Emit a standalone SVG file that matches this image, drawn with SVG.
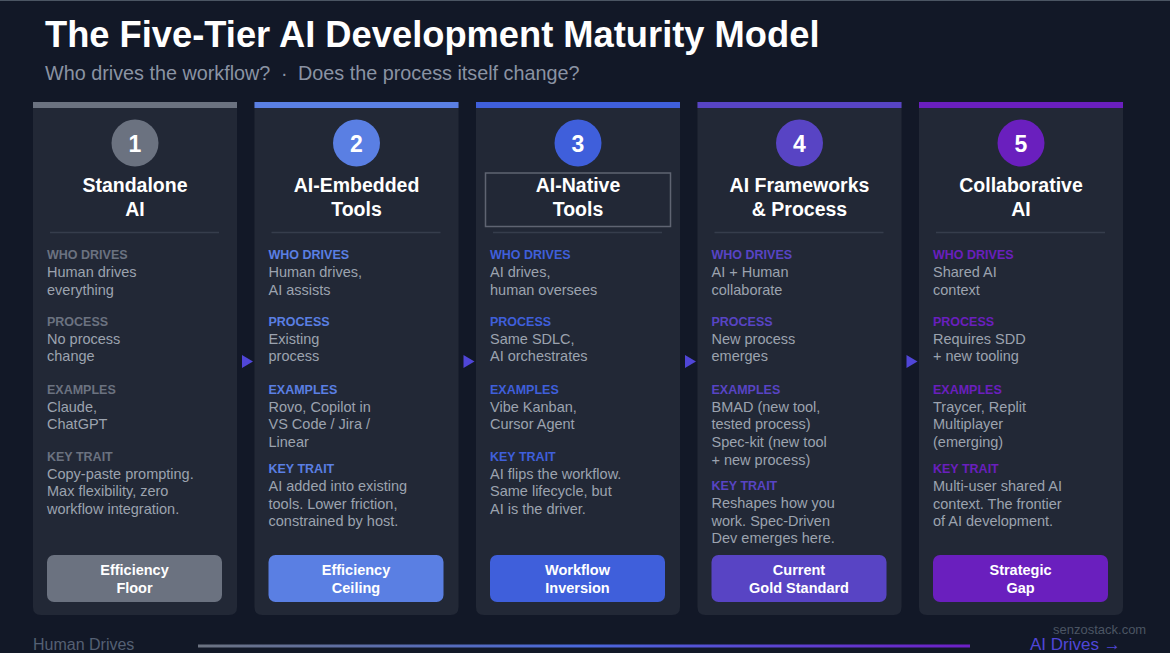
<svg xmlns="http://www.w3.org/2000/svg" width="1170" height="653" viewBox="0 0 1170 653">
<defs>
<style>
.bg{fill:#121827}
.card{fill:#222836}
.ttl{font-family:"Liberation Sans",Arial,sans-serif;font-weight:bold;fill:#ffffff}
.sub{font-family:"Liberation Sans",Arial,sans-serif;font-size:19.8px;fill:#8a93a3}
.ct{font-family:"Liberation Sans",Arial,sans-serif;font-weight:bold;font-size:19.5px;fill:#ffffff;text-anchor:middle}
.num{font-family:"Liberation Sans",Arial,sans-serif;font-weight:bold;font-size:23px;fill:#ffffff;text-anchor:middle}
.lbl{font-family:"Liberation Sans",Arial,sans-serif;font-weight:bold;font-size:12.5px}
.bd{font-family:"Liberation Sans",Arial,sans-serif;font-size:14.5px;fill:#9ca3af}
.bt{font-family:"Liberation Sans",Arial,sans-serif;font-weight:bold;font-size:14.5px;fill:#ffffff;text-anchor:middle}
.div{stroke:#363d4c;stroke-width:1.5}
.c1{fill:#6b7280}.c2{fill:#5a7fe3}.c3{fill:#3f5fdb}.c4{fill:#5844c4}.c5{fill:#6a1fbe}
.arr{fill:#5046d8}
</style>
<linearGradient id="prog" x1="0" y1="0" x2="1" y2="0">
<stop offset="0" stop-color="#6b7280"/>
<stop offset="0.5" stop-color="#4a68dc"/>
<stop offset="1" stop-color="#6d1fc6"/>
</linearGradient>
</defs>
<rect class="bg" x="0" y="0" width="1170" height="653"/>
<rect x="0" y="0" width="1170" height="1" fill="#4b5563"/>
<text class="ttl" x="45" y="47" font-size="36.3">The Five-Tier AI Development Maturity Model</text>
<text class="sub" x="45" y="80">Who drives the workflow?</text>
<text class="sub" x="281" y="80">·</text>
<text class="sub" x="298" y="80">Does the process itself change?</text>

<g id="connectors">
<polygon class="arr" points="242,355 253,361.5 242,368"/>
<polygon class="arr" points="463.5,355 474.5,361.5 463.5,368"/>
<polygon class="arr" points="685,355 696,361.5 685,368"/>
<polygon class="arr" points="906.5,355 917.5,361.5 906.5,368"/>
</g>

<g id="tier1">
<path class="card" d="M33,102 h204 v505 q0,8 -8,8 h-188 q-8,0 -8,-8 z"/>
<rect class="c1" x="33" y="102" width="204" height="6"/>
<circle class="c1" cx="135" cy="143" r="23.5"/>
<text class="num" x="135" y="151.5">1</text>
<text class="ct" x="135" y="191.5">Standalone</text>
<text class="ct" x="135" y="215.5">AI</text>
<line class="div" x1="50" y1="232.5" x2="219" y2="232.5"/>
<text class="lbl c1" x="47" y="259">WHO DRIVES</text>
<text class="bd" x="47" y="277">Human drives</text>
<text class="bd" x="47" y="295">everything</text>
<text class="lbl c1" x="47" y="326">PROCESS</text>
<text class="bd" x="47" y="343.5">No process</text>
<text class="bd" x="47" y="361">change</text>
<text class="lbl c1" x="47" y="393.5">EXAMPLES</text>
<text class="bd" x="47" y="411.5">Claude,</text>
<text class="bd" x="47" y="429">ChatGPT</text>
<text class="lbl c1" x="47" y="461">KEY TRAIT</text>
<text class="bd" x="47" y="478.5">Copy-paste prompting.</text>
<text class="bd" x="47" y="496">Max flexibility, zero</text>
<text class="bd" x="47" y="514">workflow integration.</text>
<rect class="c1" x="47" y="555" width="175" height="47" rx="7"/>
<text class="bt" x="134.5" y="575">Efficiency</text>
<text class="bt" x="134.5" y="593">Floor</text>
</g>

<g id="tier2">
<path class="card" d="M254.5,102 h204 v505 q0,8 -8,8 h-188 q-8,0 -8,-8 z"/>
<rect class="c2" x="254.5" y="102" width="204" height="6"/>
<circle class="c2" cx="356.5" cy="143" r="23.5"/>
<text class="num" x="356.5" y="151.5">2</text>
<text class="ct" x="356.5" y="191.5">AI-Embedded</text>
<text class="ct" x="356.5" y="215.5">Tools</text>
<line class="div" x1="271.5" y1="232.5" x2="440.5" y2="232.5"/>
<text class="lbl c2" x="268.5" y="259">WHO DRIVES</text>
<text class="bd" x="268.5" y="277">Human drives,</text>
<text class="bd" x="268.5" y="295">AI assists</text>
<text class="lbl c2" x="268.5" y="326">PROCESS</text>
<text class="bd" x="268.5" y="343.5">Existing</text>
<text class="bd" x="268.5" y="361">process</text>
<text class="lbl c2" x="268.5" y="393.5">EXAMPLES</text>
<text class="bd" x="268.5" y="411.5">Rovo, Copilot in</text>
<text class="bd" x="268.5" y="429">VS Code / Jira /</text>
<text class="bd" x="268.5" y="447">Linear</text>
<text class="lbl c2" x="268.5" y="473">KEY TRAIT</text>
<text class="bd" x="268.5" y="491">AI added into existing</text>
<text class="bd" x="268.5" y="509">tools. Lower friction,</text>
<text class="bd" x="268.5" y="526">constrained by host.</text>
<rect class="c2" x="268.5" y="555" width="175" height="47" rx="7"/>
<text class="bt" x="356" y="575">Efficiency</text>
<text class="bt" x="356" y="593">Ceiling</text>
</g>

<g id="tier3">
<path class="card" d="M476,102 h204 v505 q0,8 -8,8 h-188 q-8,0 -8,-8 z"/>
<rect class="c3" x="476" y="102" width="204" height="6"/>
<circle class="c3" cx="578" cy="143" r="23.5"/>
<text class="num" x="578" y="151.5">3</text>
<rect x="485.5" y="173" width="185" height="53.5" fill="none" stroke="#5f6472" stroke-width="1.5"/>
<text class="ct" x="578" y="191.5">AI-Native</text>
<text class="ct" x="578" y="215.5">Tools</text>
<line class="div" x1="493" y1="232.5" x2="662" y2="232.5"/>
<text class="lbl c3" x="490" y="259">WHO DRIVES</text>
<text class="bd" x="490" y="277">AI drives,</text>
<text class="bd" x="490" y="295">human oversees</text>
<text class="lbl c3" x="490" y="326">PROCESS</text>
<text class="bd" x="490" y="343.5">Same SDLC,</text>
<text class="bd" x="490" y="361">AI orchestrates</text>
<text class="lbl c3" x="490" y="393.5">EXAMPLES</text>
<text class="bd" x="490" y="411.5">Vibe Kanban,</text>
<text class="bd" x="490" y="429">Cursor Agent</text>
<text class="lbl c3" x="490" y="461">KEY TRAIT</text>
<text class="bd" x="490" y="478.5">AI flips the workflow.</text>
<text class="bd" x="490" y="496">Same lifecycle, but</text>
<text class="bd" x="490" y="514">AI is the driver.</text>
<rect class="c3" x="490" y="555" width="175" height="47" rx="7"/>
<text class="bt" x="577.5" y="575">Workflow</text>
<text class="bt" x="577.5" y="593">Inversion</text>
</g>

<g id="tier4">
<path class="card" d="M697.5,102 h204 v505 q0,8 -8,8 h-188 q-8,0 -8,-8 z"/>
<rect class="c4" x="697.5" y="102" width="204" height="6"/>
<circle class="c4" cx="799.5" cy="143" r="23.5"/>
<text class="num" x="799.5" y="151.5">4</text>
<text class="ct" x="799.5" y="191.5">AI Frameworks</text>
<text class="ct" x="799.5" y="215.5">&amp; Process</text>
<line class="div" x1="714.5" y1="232.5" x2="883.5" y2="232.5"/>
<text class="lbl c4" x="711.5" y="259">WHO DRIVES</text>
<text class="bd" x="711.5" y="277">AI + Human</text>
<text class="bd" x="711.5" y="295">collaborate</text>
<text class="lbl c4" x="711.5" y="326">PROCESS</text>
<text class="bd" x="711.5" y="343.5">New process</text>
<text class="bd" x="711.5" y="361">emerges</text>
<text class="lbl c4" x="711.5" y="393.5">EXAMPLES</text>
<text class="bd" x="711.5" y="411.5">BMAD (new tool,</text>
<text class="bd" x="711.5" y="429">tested process)</text>
<text class="bd" x="711.5" y="447">Spec-kit (new tool</text>
<text class="bd" x="711.5" y="464.5">+ new process)</text>
<text class="lbl c4" x="711.5" y="490">KEY TRAIT</text>
<text class="bd" x="711.5" y="508">Reshapes how you</text>
<text class="bd" x="711.5" y="526">work. Spec-Driven</text>
<text class="bd" x="711.5" y="543">Dev emerges here.</text>
<rect class="c4" x="711.5" y="555" width="175" height="47" rx="7"/>
<text class="bt" x="799" y="575">Current</text>
<text class="bt" x="799" y="593">Gold Standard</text>
</g>

<g id="tier5">
<path class="card" d="M919,102 h204 v505 q0,8 -8,8 h-188 q-8,0 -8,-8 z"/>
<rect class="c5" x="919" y="102" width="204" height="6"/>
<circle class="c5" cx="1021" cy="143" r="23.5"/>
<text class="num" x="1021" y="151.5">5</text>
<text class="ct" x="1021" y="191.5">Collaborative</text>
<text class="ct" x="1021" y="215.5">AI</text>
<line class="div" x1="936" y1="232.5" x2="1105" y2="232.5"/>
<text class="lbl c5" x="933" y="259">WHO DRIVES</text>
<text class="bd" x="933" y="277">Shared AI</text>
<text class="bd" x="933" y="295">context</text>
<text class="lbl c5" x="933" y="326">PROCESS</text>
<text class="bd" x="933" y="343.5">Requires SDD</text>
<text class="bd" x="933" y="361">+ new tooling</text>
<text class="lbl c5" x="933" y="393.5">EXAMPLES</text>
<text class="bd" x="933" y="411.5">Traycer, Replit</text>
<text class="bd" x="933" y="429">Multiplayer</text>
<text class="bd" x="933" y="447">(emerging)</text>
<text class="lbl c5" x="933" y="473">KEY TRAIT</text>
<text class="bd" x="933" y="491">Multi-user shared AI</text>
<text class="bd" x="933" y="509">context. The frontier</text>
<text class="bd" x="933" y="526">of AI development.</text>
<rect class="c5" x="933" y="555" width="175" height="47" rx="7"/>
<text class="bt" x="1020.5" y="575">Strategic</text>
<text class="bt" x="1020.5" y="593">Gap</text>
</g>

<g id="axis">
<text x="33" y="650" font-family="'Liberation Sans',Arial,sans-serif" font-size="16" fill="#556074">Human Drives</text>
<rect x="198" y="644.5" width="772" height="3" fill="url(#prog)"/>
<text x="1030" y="650" font-family="'Liberation Sans',Arial,sans-serif" font-size="17" fill="#5046d8">AI Drives →</text>
<text x="1053" y="633.5" font-family="'Liberation Sans',Arial,sans-serif" font-size="13" fill="#4b5563">senzostack.com</text>
</g>
</svg>
